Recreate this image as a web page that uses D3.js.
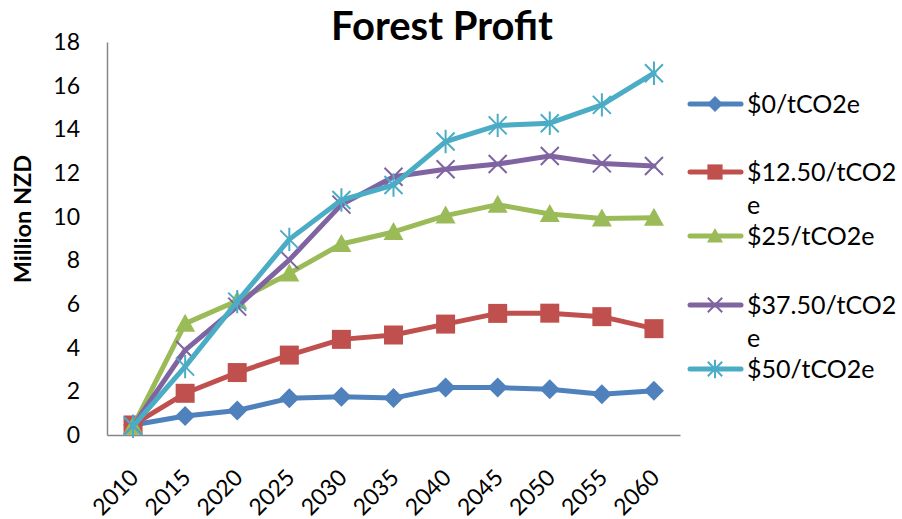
<!DOCTYPE html>
<html>
<head>
<meta charset="utf-8">
<script src="https://cdn.jsdelivr.net/npm/d3@7"></script>
<style>
  html, body { margin: 0; padding: 0; background: #fff; }
  svg { display: block; font-family: Lato, "Open Sans", sans-serif; }
</style>
</head>
<body>
<svg id="chart" width="902" height="519"></svg>
<script>
// Years on the category axis
const years = ["2010", "2015", "2020", "2025", "2030", "2035", "2040", "2045", "2050", "2055", "2060"];
const yTicks = [0, 2, 4, 6, 8, 10, 12, 14, 16, 18];

// Forest profit (million NZD) under each carbon price
const price0    = [0.46, 0.87, 1.12, 1.68, 1.75, 1.69, 2.18, 2.17, 2.10, 1.87, 2.03];
const price1250 = [0.46, 1.91, 2.86, 3.66, 4.38, 4.58, 5.08, 5.57, 5.58, 5.42, 4.87];
const price25   = [0.40, 5.10, 6.15, 7.40, 8.75, 9.30, 10.05, 10.55, 10.12, 9.92, 9.95];
const price3750 = [0.42, 3.89, 5.88, 8.02, 10.55, 11.83, 12.17, 12.41, 12.78, 12.44, 12.32];
const price50   = [0.40, 3.13, 6.11, 8.96, 10.76, 11.45, 13.44, 14.18, 14.28, 15.12, 16.57];

const seriesNames = ["$0/tCO2e", "$12.50/tCO2e", "$25/tCO2e", "$37.50/tCO2e", "$50/tCO2e"];
const seriesValues = [price0, price1250, price25, price3750, price50];
const seriesColors = ["#4F81BD", "#C0504D", "#9BBB59", "#8064A2", "#4BACC6"];
const seriesMarkers = ["diamond", "square", "triangle", "cross", "star"];
// Legend labels wrap like the original text box
const legendLines = [["$0/tCO2e"], ["$12.50/tCO2", "e"], ["$25/tCO2e"], ["$37.50/tCO2", "e"], ["$50/tCO2e"]];

const svg = d3.select("#chart");
const plot = { left: 107, right: 680, top: 42, bottom: 435 };

const x = d3.scaleBand().domain(years).range([plot.left, plot.right]);
const y = d3.scaleLinear().domain([0, 18]).range([plot.bottom, plot.top]);
const cx = d => x(d) + x.bandwidth() / 2;

// Title
svg.append("text")
  .attr("x", 442).attr("y", 40)
  .attr("text-anchor", "middle")
  .attr("font-size", 40).attr("font-weight", "bold")
  .text("Forest Profit");

// Y axis title
svg.append("text")
  .attr("transform", "translate(31,219) rotate(-90)")
  .attr("text-anchor", "middle")
  .attr("font-size", 23.5).attr("font-weight", "bold")
  .text("Million NZD");

// Y axis
const yAxis = svg.append("g")
  .attr("transform", `translate(${plot.left},0)`)
  .call(d3.axisLeft(y).tickValues(yTicks).tickSize(0).tickPadding(27));
yAxis.select(".domain").attr("stroke", "#868686").attr("stroke-width", 1.5);
yAxis.selectAll("text").attr("font-size", 23).attr("fill", "#000").attr("font-family", "Lato, sans-serif");

// X axis
const xAxis = svg.append("g")
  .attr("transform", `translate(0,${plot.bottom})`)
  .call(d3.axisBottom(x).tickSize(0).tickPadding(0));
xAxis.select(".domain").attr("stroke", "#868686").attr("stroke-width", 1.5);
xAxis.selectAll("text")
  .attr("font-size", 23).attr("fill", "#000").attr("font-family", "Lato, sans-serif")
  .attr("text-anchor", "end")
  .attr("dy", null)
  .attr("transform", "translate(7,44) rotate(-45)");

// Marker shapes
function markerPath(kind, size) {
  const h = size / 2;
  switch (kind) {
    case "diamond": return `M0,${-h}L${h},0L0,${h}L${-h},0Z`;
    case "square": return `M${-h},${-h}H${h}V${h}H${-h}Z`;
    case "triangle": return `M0,${-h}L${h},${h * 0.8}L${-h},${h * 0.8}Z`;
    case "cross": return `M${-h},${-h}L${h},${h}M${-h},${h}L${h},${-h}`;
    case "star": return `M${-h},${-h}L${h},${h}M${-h},${h}L${h},${-h}M0,${-h * 1.3}V${h * 1.3}`;
  }
}
function drawMarker(g, kind, color, size) {
  const filled = kind === "diamond" || kind === "square" || kind === "triangle";
  g.append("path")
    .attr("d", markerPath(kind, size))
    .attr("fill", filled ? color : "none")
    .attr("stroke", color)
    .attr("stroke-width", filled ? 0 : 2);
}
const markerSizes = { diamond: 20, square: 19, triangle: 20, cross: 18, star: 18 };

const line = d3.line().x((d, i) => cx(years[i])).y(d => y(d));

seriesValues.forEach((vals, s) => {
  const g = svg.append("g");
  g.append("path")
    .datum(vals)
    .attr("d", line)
    .attr("fill", "none")
    .attr("stroke", seriesColors[s])
    .attr("stroke-width", 5)
    .attr("stroke-linejoin", "round")
    .attr("stroke-linecap", "round");
  vals.forEach((v, i) => {
    const m = g.append("g").attr("transform", `translate(${cx(years[i])},${y(v)})`);
    drawMarker(m, seriesMarkers[s], seriesColors[s], markerSizes[seriesMarkers[s]]);
  });
});

// Legend
const legendY = [104, 172, 236, 305, 369];
seriesNames.forEach((name, s) => {
  const g = svg.append("g").attr("transform", `translate(0,${legendY[s]})`);
  g.append("line")
    .attr("x1", 690).attr("x2", 741).attr("y1", 0).attr("y2", 0)
    .attr("stroke", seriesColors[s]).attr("stroke-width", 5).attr("stroke-linecap", "round");
  const m = g.append("g").attr("transform", "translate(715,0)");
  drawMarker(m, seriesMarkers[s], seriesColors[s], markerSizes[seriesMarkers[s]] * 0.8);
  legendLines[s].forEach((t, k) => {
    g.append("text")
      .attr("x", 747).attr("y", k * 33)
      .attr("dy", "0.35em")
      .attr("font-size", 25)
      .text(t);
  });
});
</script>
</body>
</html>
